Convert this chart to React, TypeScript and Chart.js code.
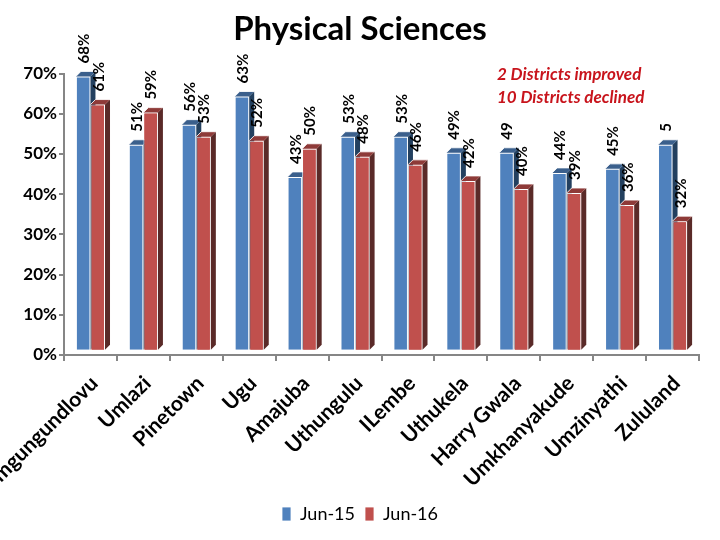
import { useEffect, useRef } from "react";
import { Chart, registerables } from "chart.js";

Chart.register(...registerables);

const districts = [
  "Umgungundlovu",
  "Umlazi",
  "Pinetown",
  "Ugu",
  "Amajuba",
  "Uthungulu",
  "ILembe",
  "Uthukela",
  "Harry Gwala",
  "Umkhanyakude",
  "Umzinyathi",
  "Zululand",
];
const jun15 = [68, 51, 56, 63, 43, 53, 53, 49, 49, 44, 45, 51];
const jun16 = [61, 59, 53, 52, 50, 48, 46, 42, 40, 39, 36, 32];
// value labels as printed on the chart (two are cut short in the original)
const jun15Labels = ["68%", "51%", "56%", "63%", "43%", "53%", "53%", "49%", "49", "44%", "45%", "5"];
const jun16Labels = ["61%", "59%", "53%", "52%", "50%", "48%", "46%", "42%", "40%", "39%", "36%", "32%"];
const yTicks = [0, 10, 20, 30, 40, 50, 60, 70];
const notes = ["2 Districts improved", "10 Districts declined"];

const FONT = "Lato, 'Open Sans', sans-serif";
const DEPTH = 5;
const faces = [
  { top: "#3a5f8c", side: "#23405f" },
  { top: "#8e3a38", side: "#5a2a28" },
];

// side + top faces for a pseudo 3D look
const draw3d = (ctx: CanvasRenderingContext2D, el: any, f: { top: string; side: string }) => {
  const { x, y, base, width } = el.getProps(["x", "y", "base", "width"], true);
  const l = x - width / 2;
  const r = x + width / 2;
  ctx.fillStyle = f.side;
  ctx.beginPath();
  ctx.moveTo(r, y);
  ctx.lineTo(r + DEPTH, y - DEPTH);
  ctx.lineTo(r + DEPTH, base - DEPTH);
  ctx.lineTo(r, base);
  ctx.closePath();
  ctx.fill();
  ctx.fillStyle = f.top;
  ctx.beginPath();
  ctx.moveTo(l, y);
  ctx.lineTo(l + DEPTH, y - DEPTH);
  ctx.lineTo(r + DEPTH, y - DEPTH);
  ctx.lineTo(r, y);
  ctx.closePath();
  ctx.fill();
  ctx.strokeStyle = "rgba(255,255,255,0.85)";
  ctx.lineWidth = 1;
  ctx.beginPath();
  ctx.moveTo(l, y);
  ctx.lineTo(l + DEPTH, y - DEPTH);
  ctx.lineTo(r + DEPTH, y - DEPTH);
  ctx.stroke();
};

const barsPlugin = {
  id: "bars3d",
  afterDatasetsDraw(chart: any) {
    const ctx = chart.ctx as CanvasRenderingContext2D;
    const m0 = chart.getDatasetMeta(0);
    const m1 = chart.getDatasetMeta(1);
    ctx.save();
    m0.data.forEach((el: any) => draw3d(ctx, el, faces[0]));
    m1.data.forEach((el: any) => {
      el.draw(ctx);
      draw3d(ctx, el, faces[1]);
    });
    // value labels, rotated
    ctx.fillStyle = "#000";
    ctx.font = `bold 15px ${FONT}`;
    ctx.textAlign = "left";
    ctx.textBaseline = "middle";
    [m0, m1].forEach((meta: any, di: number) => {
      const texts = di === 0 ? jun15Labels : jun16Labels;
      meta.data.forEach((el: any, i: number) => {
        ctx.save();
        ctx.translate(el.x + 1, el.y - 13);
        ctx.rotate(-Math.PI / 2);
        ctx.fillText(texts[i], 0, 0);
        ctx.restore();
      });
    });
    // note in red
    ctx.fillStyle = "#c8141c";
    ctx.font = `italic bold 17px ${FONT}`;
    notes.forEach((t, i) => ctx.fillText(t, 497, 75 + i * 23));
    ctx.restore();
  },
};

export default function App() {
  const chartRef = useRef<HTMLCanvasElement | null>(null);

  useEffect(() => {
    document.body.style.margin = "0";
    if (!chartRef.current) return;
    const chart = new Chart(chartRef.current, {
      type: "bar",
      data: {
        labels: districts,
        datasets: [
          {
            label: "Jun-15",
            data: jun15,
            backgroundColor: "#4f81bd",
            borderColor: "rgba(255,255,255,0.8)",
            borderWidth: 1,
            yAxisID: "yBars",
          },
          {
            label: "Jun-16",
            data: jun16,
            backgroundColor: "#c0504d",
            borderColor: "rgba(255,255,255,0.8)",
            borderWidth: 1,
            yAxisID: "yBars",
          },
        ],
      },
      options: {
        responsive: false,
        animation: false,
        layout: { padding: { bottom: 7 } },
        datasets: { bar: { categoryPercentage: 0.55, barPercentage: 1 } },
        scales: {
          x: {
            grid: { display: true, drawOnChartArea: false, tickLength: 6, color: "#868686", lineWidth: 2 },
            border: { color: "#868686", width: 2 },
            ticks: {
              autoSkip: false,
              minRotation: 45,
              maxRotation: 45,
              padding: 10,
              labelOffset: 4,
              color: "#000",
              font: { family: FONT, size: 21, weight: "bold" },
            },
            afterFit: (s: any) => {
              s.paddingLeft = 0;
              s.paddingRight = 21;
              s.height = 140;
            },
          },
          y: {
            min: 0,
            max: 70,
            afterBuildTicks: (s: any) => {
              s.ticks = yTicks.map((v) => ({ value: v }));
            },
            grid: { display: true, drawOnChartArea: false, tickLength: 5, color: "#868686", lineWidth: 2 },
            border: { color: "#868686", width: 2 },
            ticks: {
              color: "#000",
              padding: 2,
              font: { family: FONT, size: 17, weight: "bold" },
              callback: (v: any) => v + "%",
            },
            afterFit: (s: any) => {
              s.width = 64;
            },
          },
          // bars sit a little above the floor, like the 3D original
          yBars: { display: false, min: -1.3, max: 68.7 },
        },
        plugins: {
          title: {
            display: true,
            text: "Physical Sciences",
            color: "#000",
            font: { family: FONT, size: 33, weight: "bold" },
            padding: { top: 10, bottom: 24 },
          },
          legend: {
            position: "bottom",
            labels: {
              color: "#000",
              boxWidth: 9,
              boxHeight: 14,
              font: { family: FONT, size: 18 },
            },
          },
          tooltip: { enabled: false },
        },
      },
      plugins: [barsPlugin],
    });
    return () => chart.destroy();
  }, []);

  return (
    <div>
      <canvas ref={chartRef} width={720} height={540} />
    </div>
  );
}
